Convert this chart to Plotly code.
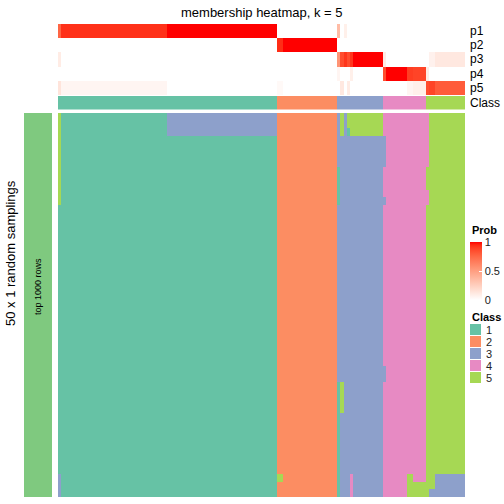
import plotly.graph_objects as go

# ---------------- data ----------------
n_samples = 134
n_samplings = 50
class_sizes = [72, 20, 15, 14, 13]
class_names = ["1", "2", "3", "4", "5"]
class_colors = ["#66C2A5", "#FC8D62", "#8DA0CB", "#E78AC3", "#A6D854"]
prob_rows = ["p1", "p2", "p3", "p4", "p5"]

p1 = [0.76] + [0.93]*35 + [1.0]*36 + [0.0]*20 + [0.35, 0.0, 0.08, 0.0, 0.0] + [0.0]*10 + [0.0]*14 + [0.0]*13
p2 = [0.0]*72 + [0.94]*2 + [1.0]*18 + [0.0]*42
p3 = [0.1] + [0.0]*71 + [0.0]*20 + [0.55, 0.85, 0.92, 0.85, 0.92] + [1.0]*10 + [0.1] + [0.0]*13 + [0.0] + [0.07]*2 + [0.12]*10
p4 = [0.0]*72 + [0.0]*20 + [0.05, 0.0, 0.0, 0.0, 0.08] + [0.0]*10 + [0.85] + [1.0]*7 + [0.9]*2 + [0.88]*4 + [0.1] + [0.0]*12
p5 = [0.14] + [0.05]*35 + [0.0]*36 + [0.03]*2 + [0.0]*18 + [0.0, 0.12, 0.0, 0.1, 0.0] + [0.0]*10 + [0.0] + [0.0]*7 + [0.05]*2 + [0.08]*4 + [0.85] + [0.88]*2 + [0.8]*10

# consensus class of each sample (columns)
consensus_class = []
for k, size in enumerate(class_sizes):
    consensus_class += [k + 1] * size

# samplings that disagree with the consensus:
# (first_row, end_row, first_col, end_col, class)
sampling_deviations = [
    (0, 12, 0, 1, 5),
    (47, 50, 0, 1, 3),
    (0, 3, 36, 72, 3),
    (47, 48, 72, 74, 5),
    (7, 12, 92, 93, 1),
    (35, 50, 92, 93, 1),
    (0, 3, 93, 94, 5),
    (35, 39, 93, 94, 5),
    (0, 2, 95, 96, 5),
    (2, 3, 95, 96, 1),
    (0, 3, 96, 107, 5),
    (47, 50, 96, 97, 4),
    (3, 7, 107, 108, 3),
    (11, 12, 107, 108, 3),
    (33, 35, 107, 108, 3),
    (47, 50, 115, 117, 5),
    (48, 50, 117, 121, 5),
    (0, 7, 121, 122, 4),
    (10, 12, 121, 122, 4),
    (49, 50, 122, 124, 3),
    (47, 50, 124, 134, 3),
]

membership = [list(consensus_class) for _ in range(n_samplings)]
for r0, r1, c0, c1, cl in sampling_deviations:
    for r in range(r0, r1):
        for c in range(c0, c1):
            membership[r][c] = cl

# ---------------- colours ----------------
def _lin(c):
    c = c / 255.0
    return c / 12.92 if c <= 0.04045 else ((c + 0.055) / 1.055) ** 2.4

def _gam(c):
    c = 12.92 * c if c <= 0.0031308 else 1.055 * c ** (1 / 2.4) - 0.055
    return max(0, min(255, round(c * 255)))

def rgb2lab(rgb):
    r, g, b = [_lin(v) for v in rgb]
    X = (0.4124 * r + 0.3576 * g + 0.1805 * b) / 0.95047
    Y = (0.2126 * r + 0.7152 * g + 0.0722 * b)
    Z = (0.0193 * r + 0.1192 * g + 0.9505 * b) / 1.08883
    f = lambda t: t ** (1 / 3) if t > 0.008856 else 7.787 * t + 16 / 116
    fx, fy, fz = f(X), f(Y), f(Z)
    return (116 * fy - 16, 500 * (fx - fy), 200 * (fy - fz))

def lab2rgb(lab):
    L, a, bb = lab
    fy = (L + 16) / 116
    fx = fy + a / 500
    fz = fy - bb / 200
    fi = lambda t: t ** 3 if t ** 3 > 0.008856 else (t - 16 / 116) / 7.787
    X, Y, Z = fi(fx) * 0.95047, fi(fy), fi(fz) * 1.08883
    r = 3.2406 * X - 1.5372 * Y - 0.4986 * Z
    g = -0.9689 * X + 1.8758 * Y + 0.0415 * Z
    b = 0.0557 * X - 0.2040 * Y + 1.0570 * Z
    return "rgb(%d,%d,%d)" % (_gam(max(r, 0)), _gam(max(g, 0)), _gam(max(b, 0)))

w_lab = rgb2lab((255, 255, 255))
r_lab = rgb2lab((255, 0, 0))
prob_scale = []
for i in range(21):
    t = i / 20
    lab = tuple(w_lab[j] + (r_lab[j] - w_lab[j]) * t for j in range(3))
    prob_scale.append([t, lab2rgb(lab)])

class_scale = []
for k, col in enumerate(class_colors):
    class_scale.append([k / 5, col])
    class_scale.append([(k + 1) / 5, col])

# ---------------- layout helpers ----------------
W = H = 504
def px_x(x):
    return x / W
def px_y(y):
    return 1 - y / H

X0, X1 = 58, 465
FONT = "Liberation Sans, Arial, Helvetica, sans-serif"

cols = list(range(n_samples))
fig = go.Figure()

fig.add_trace(go.Heatmap(
    z=[p1, p2, p3, p4, p5], x=cols, y=list(range(5)),
    colorscale=prob_scale, zmin=0, zmax=1, xaxis="x", yaxis="y2",
    hoverinfo="skip",
    colorbar=dict(
        x=px_x(470), xanchor="left", xpad=0, ypad=0,
        y=px_y(242), yanchor="top", lenmode="pixels", len=58,
        thicknessmode="pixels", thickness=12, outlinewidth=0,
        tickvals=[0, 0.5, 1], ticktext=["0", "0.5", "1"],
        ticks="inside", ticklen=3, tickcolor="white",
        tickfont=dict(family=FONT, size=11, color="#222"),
    ),
))
fig.add_trace(go.Heatmap(
    z=[consensus_class], x=cols, y=[0],
    colorscale=class_scale, zmin=0.5, zmax=5.5, showscale=False,
    xaxis="x", yaxis="y3", hoverinfo="skip",
))
fig.add_trace(go.Heatmap(
    z=membership, x=cols, y=list(range(n_samplings)),
    colorscale=class_scale, zmin=0.5, zmax=5.5, showscale=False,
    xaxis="x", yaxis="y", hoverinfo="skip",
))

hidden = dict(showgrid=False, zeroline=False, showticklabels=False, ticks="", showline=False)
fig.update_layout(
    width=W, height=H, autosize=False,
    margin=dict(l=0, r=0, t=0, b=0, pad=0),
    paper_bgcolor="white", plot_bgcolor="white",
    showlegend=False,
    xaxis=dict(domain=[px_x(X0), px_x(X1)], range=[-0.5, n_samples - 0.5], **hidden),
    yaxis=dict(domain=[px_y(497), px_y(113)], range=[n_samplings - 0.5, -0.5], **hidden),
    yaxis2=dict(domain=[px_y(95), px_y(24)], range=[4.5, -0.5], **hidden),
    yaxis3=dict(domain=[px_y(109.5), px_y(96)], range=[0.5, -0.5], **hidden),
)

ann = []
ann.append(dict(text="membership heatmap, k = 5", x=px_x((X0 + X1) / 2), y=px_y(12),
                xref="paper", yref="paper", showarrow=False, xanchor="center", yanchor="middle",
                font=dict(family=FONT, size=13, color="black")))
row_centres = [31, 45, 59, 73.5, 88, 102.7]
for name, yc in zip(prob_rows + ["Class"], row_centres):
    ann.append(dict(text=name, x=px_x(468), y=px_y(yc), xref="paper", yref="paper",
                    showarrow=False, xanchor="left", yanchor="middle",
                    font=dict(family=FONT, size=12, color="black")))
ann.append(dict(text="<b>Prob</b>", x=px_x(470), y=px_y(230), xref="paper", yref="paper",
                showarrow=False, xanchor="left", yanchor="middle",
                font=dict(family=FONT, size=11, color="black")))
ann.append(dict(text="<b>Class</b>", x=px_x(470), y=px_y(317), xref="paper", yref="paper",
                showarrow=False, xanchor="left", yanchor="middle",
                font=dict(family=FONT, size=11, color="black")))
ann.append(dict(text="50 x 1 random samplings", x=px_x(10), y=px_y(253), xref="paper", yref="paper",
                showarrow=False, textangle=-90, xanchor="center", yanchor="middle",
                font=dict(family=FONT, size=13, color="black")))
ann.append(dict(text="top 1000 rows", x=px_x(38), y=px_y(287), xref="paper", yref="paper",
                showarrow=False, textangle=-90, xanchor="center", yanchor="middle",
                font=dict(family=FONT, size=9, color="black")))

shapes = []
shapes.append(dict(type="rect", xref="paper", yref="paper",
                   x0=px_x(24), x1=px_x(52), y0=px_y(497), y1=px_y(113),
                   fillcolor="#7FC97F", line=dict(width=0), layer="below"))
for k, (name, col) in enumerate(zip(class_names, class_colors)):
    top = 324 + k * 12
    shapes.append(dict(type="rect", xref="paper", yref="paper",
                       x0=px_x(470), x1=px_x(481), y0=px_y(top + 11), y1=px_y(top),
                       fillcolor=col, line=dict(width=0)))
    ann.append(dict(text=name, x=px_x(484), y=px_y(top + 5.5), xref="paper", yref="paper",
                    showarrow=False, xanchor="left", yanchor="middle",
                    font=dict(family=FONT, size=11, color="#222")))

fig.update_layout(annotations=ann, shapes=shapes)
fig.write_html("out.html", config={"displayModeBar": False},
               post_script="document.body.style.margin='0';document.body.style.padding='0';")
